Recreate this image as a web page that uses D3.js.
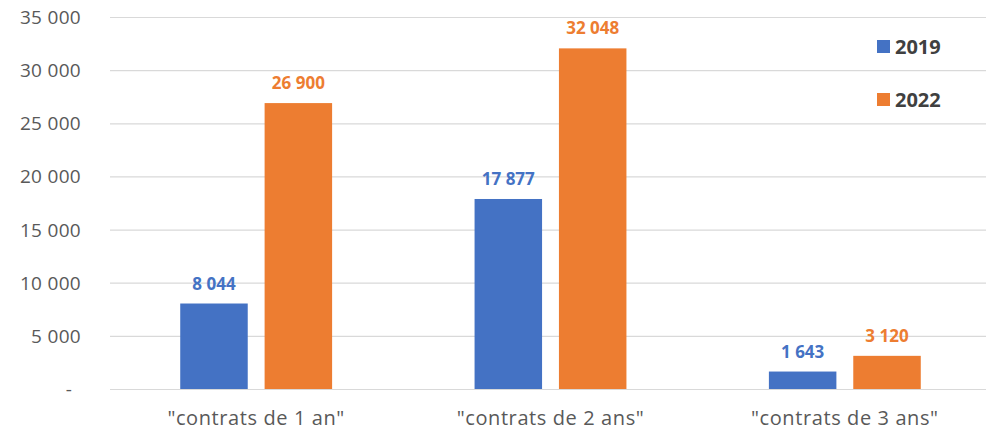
<!DOCTYPE html>
<html lang="fr">
<head>
<meta charset="utf-8">
<script src="https://cdn.jsdelivr.net/npm/d3@7"></script>
<style>
  body { margin: 0; background: #fff; }
  svg text { font-family: "Open Sans", "Noto Sans", sans-serif; }
</style>
</head>
<body>
<div id="chart"></div>
<script>
// data
var categories = ['"contrats de 1 an"', '"contrats de 2 ans"', '"contrats de 3 ans"'];
var years = ["2019", "2022"];
var values2019 = [8044, 17877, 1643];
var values2022 = [26900, 32048, 3120];
var yTicks = [0, 5000, 10000, 15000, 20000, 25000, 30000, 35000];
var colors = ["#4472C4", "#ED7D31"];

var width = 986, height = 430;
var svg = d3.select("#chart").append("svg")
  .attr("width", width)
  .attr("height", height);

// scales
var y = d3.scaleLinear().domain([0, 35000]).range([389, 17]);
var x0 = d3.scaleBand().domain(categories).range([109, 992]).padding(0);
var bw = x0.bandwidth();
var x1 = d3.scaleBand().domain(years).range([bw * 0.242, bw * 0.758]).paddingInner(0.2);

var fmt = function(v) {
  return v === 0 ? "-" : d3.format(",")(v).replace(/,/g, " ");
};

// gridlines
svg.append("g").selectAll("line")
  .data(yTicks)
  .enter().append("line")
  .attr("x1", 110).attr("x2", width)
  .attr("y1", function(d) { return y(d) + 0.5; })
  .attr("y2", function(d) { return y(d) + 0.5; })
  .style("stroke", "#d9d9d9")
  .style("stroke-width", 1.2);

// y axis labels
svg.append("g").selectAll("text")
  .data(yTicks)
  .enter().append("text")
  .attr("x", function(d) { return d === 0 ? 69 : 81; })
  .attr("y", function(d) { return y(d) + 7; })
  .attr("text-anchor", function(d) { return d === 0 ? "middle" : "end"; })
  .style("font-size", "19px")
  .style("letter-spacing", "0.3px")
  .style("fill", "#595959")
  .text(fmt);

// bars
var series = [values2019, values2022];
var groups = svg.append("g").selectAll("g")
  .data(categories)
  .enter().append("g")
  .attr("transform", function(d) { return "translate(" + x0(d) + ",0)"; });

groups.each(function(cat, ci) {
  var g = d3.select(this);
  var rows = years.map(function(yr, si) { return { year: yr, value: series[si][ci], i: si }; });
  g.selectAll("rect")
    .data(rows)
    .enter().append("rect")
    .attr("x", function(d) { return x1(d.year); })
    .attr("width", x1.bandwidth())
    .attr("y", function(d) { return y(d.value); })
    .attr("height", function(d) { return y(0) - y(d.value); })
    .style("fill", function(d) { return colors[d.i]; });
  g.selectAll("text")
    .data(rows)
    .enter().append("text")
    .attr("x", function(d) { return x1(d.year) + x1.bandwidth() / 2; })
    .attr("y", function(d) { return y(d.value) - 14; })
    .attr("text-anchor", "middle")
    .style("font-size", "17px")
    .style("font-weight", "bold")
    .style("fill", function(d) { return colors[d.i]; })
    .text(function(d) { return fmt(d.value); });
});

// category labels
svg.append("g").selectAll("text")
  .data(categories)
  .enter().append("text")
  .attr("x", function(d) { return x0(d) + bw / 2; })
  .attr("y", 425)
  .attr("text-anchor", "middle")
  .style("font-size", "20px")
  .style("letter-spacing", "0.6px")
  .style("fill", "#595959")
  .text(function(d) { return d; });

// legend
var legend = svg.append("g").selectAll("g")
  .data(years)
  .enter().append("g")
  .attr("transform", function(d, i) { return "translate(877," + (40 + i * 53) + ")"; });
legend.append("rect")
  .attr("width", 13).attr("height", 13)
  .style("fill", function(d, i) { return colors[i]; });
legend.append("text")
  .attr("x", 18).attr("y", 14)
  .style("font-size", "20px")
  .style("font-weight", "bold")
  .style("fill", "#404040")
  .text(function(d) { return d; });
</script>
</body>
</html>
